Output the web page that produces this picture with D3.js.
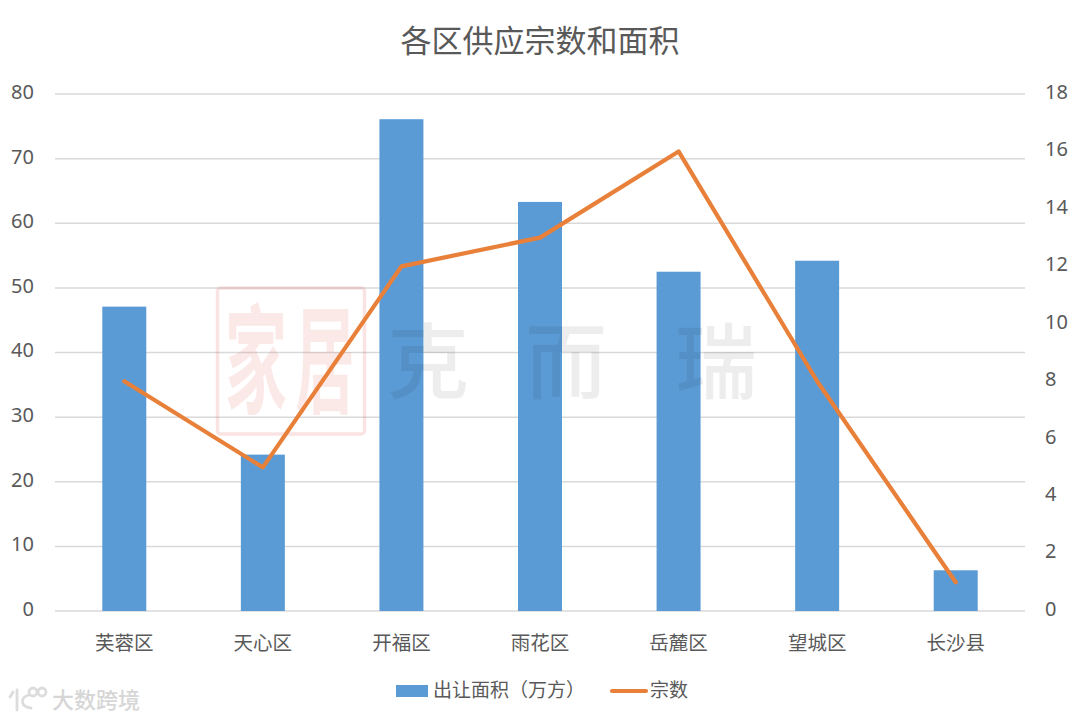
<!DOCTYPE html>
<html><head><meta charset="utf-8">
<script src="https://cdn.jsdelivr.net/npm/d3@7/dist/d3.min.js"></script>
<style>html,body{margin:0;padding:0;background:#fff}svg{display:block}text{font-family:"Noto Sans","Noto Sans CJK SC",sans-serif}</style>
</head><body><svg id="c" width="1080" height="720"></svg>
<script>
const categories=["芙蓉区","天心区","开福区","雨花区","岳麓区","望城区","长沙县"];
const areaValues=[47.1,24.2,76.1,63.3,52.5,54.2,6.3];
const countValues=[8,5,12,13,16,8,1];
const leftTicks=[0,10,20,30,40,50,60,70,80];
const rightTicks=[0,2,4,6,8,10,12,14,16,18];
const title="各区供应宗数和面积";
const legendBar="出让面积（万方）";
const legendLine="宗数";

const svg=d3.select("#c");
const x=d3.scaleBand().domain(categories).range([55,1025]);
const yL=d3.scaleLinear().domain([0,80]).range([611,94]);
const yR=d3.scaleLinear().domain([0,18]).range([611,94]);
const cx=d=>x(d)+x.bandwidth()/2;
const textCol="#595959";

svg.append("text").attr("x",540).attr("y",52).attr("text-anchor","middle")
  .attr("font-size",31).attr("fill",textCol).text(title);

const gridAxis=d3.axisLeft(yL).tickValues(leftTicks).tickSize(-970).tickFormat("");
const g=svg.append("g").attr("transform","translate(55,-0.5)").call(gridAxis);
g.select(".domain").remove();
g.selectAll("line").attr("stroke","#d9d9d9").attr("stroke-width",1.5);

svg.append("g").selectAll("rect").data(categories).join("rect")
  .attr("x",d=>cx(d)-22).attr("width",44)
  .attr("y",(d,i)=>yL(areaValues[i])).attr("height",(d,i)=>611-yL(areaValues[i]))
  .attr("fill","#5b9bd5");

// watermark
const wm=svg.append("g");
wm.append("rect").attr("x",217.5).attr("y",288).attr("width",147).attr("height",146).attr("rx",3)
  .attr("fill","none").attr("stroke","#e3524f").attr("stroke-opacity",0.16).attr("stroke-width",3.5);
[["家",256,0.82,1.55],["居",325,0.78,1.55]].forEach(([t,px,sx,sy])=>{
  wm.append("text").attr("transform",`translate(${px},404) scale(${sx},${sy})`).attr("text-anchor","middle")
    .attr("font-size",76).attr("font-weight",700).attr("fill","#e3524f").attr("fill-opacity",0.13).text(t);
});
[["克",428],["而",566],["瑞",716]].forEach(([t,px])=>{
  wm.append("text").attr("x",px).attr("y",392).attr("text-anchor","middle").attr("font-size",82)
    .attr("font-weight",500).attr("fill","#000").attr("fill-opacity",0.07).text(t);
});

const line=d3.line().x((d,i)=>cx(categories[i])).y(d=>yR(d));
svg.append("path").datum(countValues).attr("d",line).attr("fill","none")
  .attr("stroke","#e8803a").attr("stroke-width",4.2).attr("stroke-linecap","round").attr("stroke-linejoin","round");

const tickStyle=s=>s.attr("font-size",20).attr("fill",textCol).style("font-family",'"Noto Sans"');
const aL=svg.append("g").attr("transform","translate(55,-2)").call(d3.axisLeft(yL).tickValues(leftTicks).tickSize(0).tickPadding(21));
aL.select(".domain").remove();aL.selectAll("text").call(tickStyle);
const aR=svg.append("g").attr("transform","translate(1025,-2)").call(d3.axisRight(yR).tickValues(rightTicks).tickSize(0).tickPadding(20));
aR.select(".domain").remove();aR.selectAll("text").call(tickStyle);
const aB=svg.append("g").attr("transform","translate(0,611)").call(d3.axisBottom(x).tickSize(0).tickPadding(25));
aB.select(".domain").remove();aB.selectAll("text").attr("font-size",19.5).attr("fill",textCol).style("font-family",'"Noto Sans CJK SC"');

svg.append("rect").attr("x",396).attr("y",685).attr("width",32).attr("height",12).attr("fill","#5b9bd5");
svg.append("text").attr("x",433).attr("y",697).attr("font-size",19).attr("fill",textCol).style("font-family",'"Noto Sans CJK TC"').text(legendBar);
svg.append("line").attr("x1",612).attr("x2",646).attr("y1",691).attr("y2",691).attr("stroke","#e8803a").attr("stroke-width",4.2).attr("stroke-linecap","round");
svg.append("text").attr("x",650).attr("y",697).attr("font-size",19).attr("fill",textCol).style("font-family",'"Noto Sans CJK SC"').text(legendLine);

const lg=svg.append("g").attr("fill","none").attr("stroke","#dcdcdc").attr("stroke-width",2.8).attr("stroke-linecap","round");
lg.append("path").attr("d","M13,692 L10,697");
lg.append("path").attr("d","M17,690 L17,710");
lg.append("path").attr("d","M29,695 C20,697 20,707 31,708");
lg.append("circle").attr("cx",33).attr("cy",692).attr("r",4);
lg.append("circle").attr("cx",42).attr("cy",692).attr("r",4);
svg.append("text").attr("x",52).attr("y",708).attr("font-size",22).attr("font-weight",500).attr("fill","#d6d6d6").style("font-family",'"Noto Sans CJK SC"').text("大数跨境");
</script></body></html>
